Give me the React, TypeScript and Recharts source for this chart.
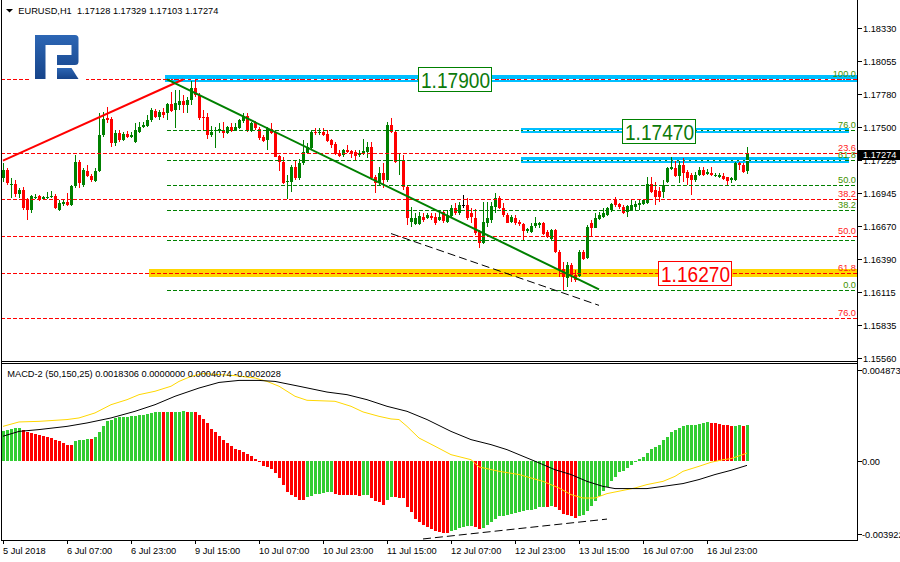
import React from 'react';
import { ComposedChart, Bar, Line, XAxis, YAxis, ReferenceLine, ReferenceArea, ReferenceDot } from 'recharts';

const FONT = '"Liberation Sans", Arial, Helvetica, sans-serif';
const FS = 9.25;

// ---- H1 candles [open, high, low, close], one array per trading day ----
const jul05 = [
  [1.17071, 1.17197, 1.17037, 1.17138], [1.17138, 1.17155, 1.17010, 1.17027], [1.17020, 1.17071, 1.16903, 1.17024],
  [1.17021, 1.17054, 1.16911, 1.16937], [1.16940, 1.16987, 1.16903, 1.16970], [1.16970, 1.16995, 1.16802, 1.16819],
  [1.16886, 1.16903, 1.16718, 1.16802], [1.16802, 1.16928, 1.16777, 1.16920], [1.16911, 1.16937, 1.16895, 1.16915],
];
const jul06 = [
  [1.16920, 1.16930, 1.16878, 1.16886], [1.16892, 1.16920, 1.16886, 1.16911], [1.16911, 1.16956, 1.16895, 1.16915],
  [1.16908, 1.16964, 1.16900, 1.16920], [1.16920, 1.16937, 1.16810, 1.16816], [1.16802, 1.16886, 1.16794, 1.16861],
  [1.16850, 1.16895, 1.16836, 1.16872], [1.16872, 1.16945, 1.16836, 1.16844], [1.16844, 1.17012, 1.16836, 1.17004],
  [1.17004, 1.17265, 1.16987, 1.17206], [1.17206, 1.17222, 1.16987, 1.17027], [1.17012, 1.17155, 1.16995, 1.17138],
  [1.17130, 1.17180, 1.17079, 1.17088], [1.17088, 1.17105, 1.17037, 1.17054], [1.17046, 1.17155, 1.17037, 1.17130],
  [1.17130, 1.17620, 1.17121, 1.17433], [1.17433, 1.17629, 1.17416, 1.17567], [1.17573, 1.17666, 1.17534, 1.17559],
  [1.17565, 1.17584, 1.17332, 1.17365], [1.17365, 1.17475, 1.17340, 1.17449], [1.17452, 1.17475, 1.17376, 1.17391],
  [1.17391, 1.17458, 1.17382, 1.17441], [1.17441, 1.17466, 1.17407, 1.17418], [1.17418, 1.17458, 1.17407, 1.17433],
];
const jul09 = [
  [1.17376, 1.17536, 1.17365, 1.17475], [1.17461, 1.17545, 1.17449, 1.17503], [1.17497, 1.17545, 1.17492, 1.17517],
  [1.17508, 1.17601, 1.17500, 1.17559], [1.17559, 1.17657, 1.17545, 1.17643], [1.17637, 1.17651, 1.17576, 1.17587],
  [1.17587, 1.17643, 1.17559, 1.17626], [1.17626, 1.17660, 1.17573, 1.17601], [1.17615, 1.17702, 1.17559, 1.17691],
  [1.17691, 1.17797, 1.17629, 1.17637], [1.17643, 1.17811, 1.17489, 1.17699], [1.17685, 1.17811, 1.17643, 1.17719],
  [1.17719, 1.17769, 1.17615, 1.17685], [1.17685, 1.17755, 1.17615, 1.17727], [1.17727, 1.17885, 1.17685, 1.17825],
  [1.17825, 1.17908, 1.17755, 1.17769], [1.17769, 1.17786, 1.17559, 1.17573], [1.17587, 1.17643, 1.17475, 1.17573],
  [1.17581, 1.17618, 1.17396, 1.17433], [1.17433, 1.17508, 1.17418, 1.17461], [1.17466, 1.17503, 1.17321, 1.17475],
  [1.17469, 1.17531, 1.17447, 1.17481], [1.17475, 1.17545, 1.17405, 1.17447], [1.17447, 1.17508, 1.17441, 1.17503],
];
const jul10 = [
  [1.17503, 1.17536, 1.17460, 1.17469], [1.17475, 1.17531, 1.17466, 1.17497], [1.17489, 1.17565, 1.17481, 1.17559],
  [1.17553, 1.17615, 1.17536, 1.17587], [1.17593, 1.17615, 1.17460, 1.17469], [1.17469, 1.17545, 1.17460, 1.17531],
  [1.17545, 1.17553, 1.17475, 1.17489], [1.17481, 1.17503, 1.17391, 1.17405], [1.17413, 1.17433, 1.17376, 1.17385],
  [1.17391, 1.17503, 1.17307, 1.17489], [1.17481, 1.17536, 1.17441, 1.17447], [1.17460, 1.17475, 1.17245, 1.17250],
  [1.17256, 1.17265, 1.17133, 1.17208], [1.17208, 1.17250, 1.17020, 1.17027], [1.17037, 1.17096, 1.16892, 1.17048],
  [1.17040, 1.17180, 1.16956, 1.17166], [1.17161, 1.17222, 1.17054, 1.17068], [1.17068, 1.17228, 1.17054, 1.17194],
  [1.17194, 1.17391, 1.17180, 1.17292], [1.17284, 1.17363, 1.17279, 1.17334], [1.17321, 1.17469, 1.17312, 1.17460],
  [1.17460, 1.17489, 1.17433, 1.17447], [1.17452, 1.17489, 1.17433, 1.17460], [1.17460, 1.17489, 1.17424, 1.17433],
];
const jul11 = [
  [1.17441, 1.17475, 1.17376, 1.17382], [1.17391, 1.17400, 1.17321, 1.17349], [1.17357, 1.17376, 1.17265, 1.17273],
  [1.17279, 1.17307, 1.17250, 1.17256], [1.17265, 1.17312, 1.17245, 1.17307], [1.17307, 1.17349, 1.17279, 1.17292],
  [1.17301, 1.17307, 1.17237, 1.17273], [1.17292, 1.17307, 1.17222, 1.17256], [1.17265, 1.17307, 1.17245, 1.17284],
  [1.17284, 1.17397, 1.17265, 1.17301], [1.17292, 1.17376, 1.17237, 1.17334], [1.17334, 1.17376, 1.17054, 1.17068],
  [1.17077, 1.17096, 1.16942, 1.17027], [1.17027, 1.17166, 1.17004, 1.17110], [1.17110, 1.17194, 1.16984, 1.17054],
  [1.17054, 1.17545, 1.17040, 1.17517], [1.17517, 1.17573, 1.17447, 1.17460], [1.17460, 1.17475, 1.17200, 1.17208],
  [1.17214, 1.17279, 1.17096, 1.17222], [1.17222, 1.17265, 1.16970, 1.16998], [1.16998, 1.17012, 1.16676, 1.16732],
  [1.16701, 1.16830, 1.16662, 1.16735], [1.16684, 1.16774, 1.16676, 1.16732], [1.16684, 1.16788, 1.16676, 1.16752],
];
const jul12 = [
  [1.16746, 1.16774, 1.16704, 1.16718], [1.16732, 1.16774, 1.16726, 1.16760], [1.16752, 1.16780, 1.16718, 1.16732],
  [1.16746, 1.16774, 1.16676, 1.16690], [1.16718, 1.16802, 1.16712, 1.16746], [1.16788, 1.16802, 1.16695, 1.16712],
  [1.16704, 1.16802, 1.16695, 1.16760], [1.16752, 1.16844, 1.16746, 1.16816], [1.16822, 1.16858, 1.16760, 1.16774],
  [1.16774, 1.16872, 1.16760, 1.16844], [1.16844, 1.16928, 1.16816, 1.16844], [1.16844, 1.16900, 1.16718, 1.16732],
  [1.16774, 1.16816, 1.16690, 1.16746], [1.16732, 1.16808, 1.16592, 1.16606], [1.16628, 1.16634, 1.16480, 1.16522],
  [1.16522, 1.16872, 1.16516, 1.16704], [1.16690, 1.16872, 1.16662, 1.16732], [1.16718, 1.16872, 1.16690, 1.16836],
  [1.16830, 1.16947, 1.16774, 1.16900], [1.16900, 1.16920, 1.16808, 1.16816], [1.16816, 1.16858, 1.16746, 1.16760],
  [1.16760, 1.16774, 1.16690, 1.16695], [1.16704, 1.16760, 1.16690, 1.16746], [1.16737, 1.16760, 1.16676, 1.16690],
];
const jul13 = [
  [1.16704, 1.16718, 1.16668, 1.16684], [1.16684, 1.16690, 1.16544, 1.16628], [1.16628, 1.16648, 1.16606, 1.16640],
  [1.16620, 1.16690, 1.16606, 1.16668], [1.16668, 1.16746, 1.16648, 1.16690], [1.16676, 1.16704, 1.16648, 1.16695],
  [1.16695, 1.16704, 1.16592, 1.16600], [1.16620, 1.16634, 1.16564, 1.16577], [1.16556, 1.16640, 1.16550, 1.16634],
  [1.16634, 1.16640, 1.16443, 1.16451], [1.16451, 1.16466, 1.16241, 1.16297], [1.16303, 1.16367, 1.16123, 1.16241],
  [1.16227, 1.16367, 1.16157, 1.16339], [1.16339, 1.16353, 1.16199, 1.16255], [1.16255, 1.16297, 1.16199, 1.16213],
  [1.16247, 1.16466, 1.16241, 1.16451], [1.16451, 1.16466, 1.16381, 1.16387], [1.16395, 1.16676, 1.16387, 1.16662],
  [1.16693, 1.16718, 1.16577, 1.16651], [1.16651, 1.16774, 1.16651, 1.16732], [1.16724, 1.16788, 1.16718, 1.16760],
  [1.16746, 1.16816, 1.16732, 1.16780], [1.16760, 1.16830, 1.16752, 1.16816], [1.16802, 1.16863, 1.16788, 1.16852],
];
const jul16 = [
  [1.16892, 1.16909, 1.16830, 1.16844], [1.16852, 1.16858, 1.16808, 1.16825], [1.16830, 1.16844, 1.16768, 1.16774],
  [1.16788, 1.16844, 1.16746, 1.16836], [1.16802, 1.16886, 1.16796, 1.16844], [1.16830, 1.16880, 1.16802, 1.16852],
  [1.16844, 1.16886, 1.16802, 1.16863], [1.16852, 1.16892, 1.16844, 1.16886], [1.16858, 1.17082, 1.16852, 1.17021],
  [1.17021, 1.17077, 1.16947, 1.16956], [1.16970, 1.17040, 1.16844, 1.16909], [1.16964, 1.16998, 1.16872, 1.16909],
  [1.16956, 1.17054, 1.16900, 1.17012], [1.17040, 1.17166, 1.17027, 1.17152], [1.17144, 1.17250, 1.17138, 1.17166],
  [1.17152, 1.17222, 1.17082, 1.17088], [1.17088, 1.17222, 1.17027, 1.17180], [1.17180, 1.17237, 1.17040, 1.17110],
  [1.17124, 1.17138, 1.17012, 1.17068], [1.17096, 1.17110, 1.16928, 1.17054], [1.17054, 1.17124, 1.17040, 1.17096],
  [1.17096, 1.17166, 1.17088, 1.17138], [1.17138, 1.17161, 1.17088, 1.17096], [1.17105, 1.17144, 1.17096, 1.17124],
];
const jul17 = [
  [1.17110, 1.17161, 1.17088, 1.17096], [1.17094, 1.17116, 1.17077, 1.17098], [1.17082, 1.17110, 1.17068, 1.17096],
  [1.17088, 1.17110, 1.17054, 1.17060], [1.17077, 1.17082, 1.17012, 1.17048], [1.17054, 1.17082, 1.17032, 1.17068],
  [1.17054, 1.17208, 1.17048, 1.17194], [1.17194, 1.17208, 1.17138, 1.17180], [1.17180, 1.17194, 1.17116, 1.17124],
  [1.17128, 1.17329, 1.17103, 1.17274],
];

// ---- MACD histogram, one array per day ----
const h05 = [0.00149, 0.00158, 0.00163, 0.00164, 0.00168, 0.00154, 0.00146, 0.00139, 0.00138];
const h06 = [0.00131, 0.00128, 0.00123, 0.00118, 0.00108, 0.00100, 0.00091, 0.00083, 0.00082, 0.00103, 0.00104, 0.00108,
  0.00111, 0.00110, 0.00120, 0.00144, 0.00174, 0.00199, 0.00208, 0.00214, 0.00219, 0.00221, 0.00222, 0.00224];
const h09 = [0.00226, 0.00229, 0.00232, 0.00236, 0.00242, 0.00244, 0.00247, 0.00246, 0.00247, 0.00246, 0.00247, 0.00248,
  0.00249, 0.00245, 0.00247, 0.00246, 0.00229, 0.00212, 0.00191, 0.00163, 0.00144, 0.00128, 0.00106, 0.00091];
const h10 = [0.00076, 0.00063, 0.00056, 0.00048, 0.00037, 0.00025, 0.00013, -0.00002, -0.00022, -0.00030, -0.00038, -0.00058,
  -0.00083, -0.00120, -0.00151, -0.00166, -0.00179, -0.00194, -0.00195, -0.00179, -0.00171, -0.00164, -0.00161, -0.00158];
const h11 = [-0.00153, -0.00152, -0.00163, -0.00166, -0.00167, -0.00168, -0.00169, -0.00170, -0.00171, -0.00170, -0.00169, -0.00184,
  -0.00199, -0.00204, -0.00219, -0.00194, -0.00178, -0.00180, -0.00181, -0.00183, -0.00229, -0.00254, -0.00286, -0.00304];
const h12 = [-0.00319, -0.00329, -0.00337, -0.00345, -0.00354, -0.00355, -0.00356, -0.00349, -0.00344, -0.00332, -0.00327, -0.00324,
  -0.00323, -0.00325, -0.00337, -0.00332, -0.00319, -0.00304, -0.00287, -0.00274, -0.00271, -0.00266, -0.00262, -0.00257];
const h13 = [-0.00254, -0.00249, -0.00244, -0.00241, -0.00236, -0.00229, -0.00226, -0.00227, -0.00224, -0.00229, -0.00244, -0.00261,
  -0.00266, -0.00274, -0.00282, -0.00274, -0.00269, -0.00249, -0.00224, -0.00199, -0.00174, -0.00149, -0.00128, -0.00100];
const h16 = [-0.00078, -0.00055, -0.00046, -0.00033, -0.00017, 0.00002, 0.00012, 0.00022, 0.00042, 0.00061, 0.00071, 0.00083,
  0.00105, 0.00121, 0.00144, 0.00154, 0.00166, 0.00174, 0.00181, 0.00182, 0.00183, 0.00186, 0.00193, 0.00194];
const h17 = [0.00193, 0.00191, 0.00188, 0.00183, 0.00179, 0.00174, 0.00178, 0.00179, 0.00175, 0.0018306];

// MACD lines, read at [bar index, value]
const signalPts: [number, number][] = [
  [0, 0.00174], [4, 0.00196], [9, 0.00199], [16, 0.00208], [19, 0.00216], [23, 0.00241], [27, 0.00282], [31, 0.00307],
  [34, 0.00332], [38, 0.00349], [42, 0.00374], [44, 0.00398], [47, 0.00423], [50, 0.00437], [54, 0.00432], [58, 0.00427],
  [63, 0.00415], [66, 0.00398], [69, 0.00374], [73, 0.00324], [76, 0.00304], [83, 0.00299], [87, 0.00274], [90, 0.00246],
  [94, 0.00224], [97, 0.00211], [99, 0.00208], [101, 0.00174], [104, 0.00116], [108, 0.00075], [112, 0.00033], [117, 0.00008],
  [119, -0.00028], [124, -0.00050], [129, -0.00066], [135, -0.00100], [139, -0.00133], [142, -0.00166], [145, -0.00183],
  [148, -0.00183], [151, -0.00161], [154, -0.00149], [158, -0.00133], [161, -0.00116], [165, -0.00100], [168, -0.00075],
  [170, -0.00050], [174, -0.00025], [177, -0.00005], [180, 0.00008], [182, 0.00013], [186, 0.0004074],
];
const mainPts: [number, number][] = [
  [0, 0.00125], [4, 0.00149], [9, 0.00158], [16, 0.00174], [21, 0.00191], [27, 0.00216], [33, 0.00249], [38, 0.00282],
  [43, 0.00324], [49, 0.00365], [54, 0.00393], [59, 0.00403], [64, 0.00403], [68, 0.00398], [74, 0.00374], [81, 0.00345],
  [86, 0.00332], [91, 0.00307], [96, 0.00274], [101, 0.00249], [106, 0.00208], [112, 0.00149], [117, 0.00108], [122, 0.00083],
  [126, 0.00058], [130, 0.00025], [134, -0.00008], [138, -0.00042], [142, -0.00066], [146, -0.00100], [150, -0.00125],
  [153, -0.00136], [161, -0.00136], [165, -0.00125], [170, -0.00111], [174, -0.00091], [178, -0.00066], [182, -0.00045],
  [186, -0.0002028],
];

const timeTicks = [0, 16, 32, 48, 64, 80, 96, 112, 128, 144, 160, 176];
const timeLabels = ['5 Jul 2018', '6 Jul 07:00', '6 Jul 23:00', '9 Jul 15:00', '10 Jul 07:00', '10 Jul 23:00',
  '11 Jul 15:00', '12 Jul 07:00', '12 Jul 23:00', '13 Jul 15:00', '16 Jul 07:00', '16 Jul 23:00'];
const priceTicks = [1.18330, 1.18055, 1.17780, 1.17500, 1.17225, 1.16945, 1.16670, 1.16390, 1.16115, 1.15835, 1.15560];
const priceDomain = [1.15532, 1.18560];
const macdTicks = [0.004873, 0, -0.003922];
const macdDomain = [-0.003922, 0.004873];

const redLevels = [
  { t: '23.6', p: 1.17278 }, { t: '38.2', p: 1.16892 }, { t: '50.0', p: 1.16581 }, { t: '61.8', p: 1.16270 }, { t: '76.0', p: 1.15895 },
];
const redTop = 1.17900;
const greenLevels = [
  { t: '0.0', p: 1.16130 }, { t: '', p: 1.16548 }, { t: '38.2', p: 1.16806 }, { t: '50.0', p: 1.17015 },
  { t: '61.8', p: 1.17224 }, { t: '76.0', p: 1.17475 }, { t: '100.0', p: 1.17900 },
];
const blueBands = [
  { x1: 41, x2: 213, y1: 1.17875, y2: 1.17934, line: 1.17900 },
  { x1: 130, x2: 211, y1: 1.17447, y2: 1.17489, line: 1.17475 },
  { x1: 130, x2: 211, y1: 1.17200, y2: 1.17245, line: 1.17224 },
];
const goldBand = { x1: 37, x2: 213, y1: 1.16239, y2: 1.16302 };
const boxes = [
  { x: 113, p: 1.17900, t: '1.17900', c: '#008000', tc: '#0b7a0b' },
  { x: 164, p: 1.17470, t: '1.17470', c: '#008000', tc: '#0b7a0b' },
  { x: 173, p: 1.16270, t: '1.16270', c: '#ff0000', tc: '#ff0000' },
];
const redTrend = [{ x: 0, y: 1.17218 }, { x: 45, y: 1.17900 }];
const greenTrend = [{ x: 41, y: 1.17900 }, { x: 149, y: 1.16134 }];
const blackTrend = [{ x: 97, y: 1.16604 }, { x: 149, y: 1.16000 }];
const macdTrend = [{ x: 105, y: -0.00387 }, { x: 151, y: -0.00288 }];
const lastPrice = 1.17274;

const candles = [...jul05, ...jul06, ...jul09, ...jul10, ...jul11, ...jul12, ...jul13, ...jul16, ...jul17];
const macdHist = [...h05, ...h06, ...h09, ...h10, ...h11, ...h12, ...h13, ...h16, ...h17];
const SLOTS = 214;

const table = Array.from({ length: SLOTS }, (_, i) => {
  const c = candles[i];
  const h = macdHist[i];
  return {
    i,
    open: c ? c[0] : null,
    high: c ? c[1] : null,
    low: c ? c[2] : null,
    close: c ? c[3] : null,
    hist: h === undefined ? null : h,
    histUp: h === undefined ? false : i === 0 || h > macdHist[i - 1],
    signal: null as number | null,
    main: null as number | null,
  };
});
for (const [i, v] of signalPts) table[i].signal = v;
for (const [i, v] of mainPts) table[i].main = v;

const Candle = (props: any) => {
  const { x, y, width, height, payload } = props;
  if (!payload || payload.open == null) return null;
  const { open, high, low, close } = payload;
  const cx = Math.round(x + width / 2);
  const span = high - low;
  const toY = (v: number) => (span > 0 ? y + ((high - v) / span) * height : y);
  const color = close === open ? '#000000' : close > open ? '#008000' : '#ff0000';
  const bt = Math.round(toY(Math.max(open, close)));
  const bb = Math.round(toY(Math.min(open, close)));
  const ht = Math.round(y);
  const hb = Math.round(y + height);
  return (
    <g>
      <rect x={cx} y={ht} width={1} height={Math.max(1, hb - ht)} fill={color} />
      <rect x={cx - 1} y={bt} width={3} height={Math.max(1, bb - bt)} fill={color} />
    </g>
  );
};

const HistBar = (props: any) => {
  const { x, y, width, height, payload } = props;
  if (!payload || payload.hist == null) return null;
  const cx = Math.round(x + width / 2);
  const a = Math.round(Math.min(y, y + height));
  const b = Math.round(Math.max(y, y + height));
  return <rect x={cx - 1} y={a} width={3} height={Math.max(1, b - a)} fill={payload.histUp ? '#32cd32' : '#ff0000'} />;
};

const HLine = (p: any) => {
  const y = Math.round(p.y1) + 0.5;
  return <line x1={p.x1} x2={p.x2} y1={y} y2={y} stroke={p.stroke} strokeWidth={1} strokeDasharray={p.strokeDasharray} />;
};

const BandShape = (p: any) => {
  const y1 = Math.round(p.y);
  const y2 = Math.round(p.y + p.height);
  return <rect x={Math.round(p.x)} y={y1} width={Math.round(p.width)} height={Math.max(1, y2 - y1)} fill={p.fill} />;
};

const levelLabel = (text: string, color: string) => (props: any) => {
  const vb = props.viewBox || {};
  const y = Math.round(vb.y);
  return (
    <text x={856} y={y - 2} textAnchor="end" fontSize={FS} fill={color} fontFamily={FONT}>
      {text}
    </text>
  );
};

const PriceTag = (props: any) => {
  const vb = props.viewBox || {};
  const y = Math.round(vb.y);
  const x = (vb.x || 0) + (vb.width || 0);
  return (
    <g>
      <rect x={x + 1} y={y - 4} width={43} height={10} fill="#000" />
      <text x={x + 6} y={y + 1} dy="0.35em" fontSize={FS} fill="#fff" fontFamily={FONT}>
        {lastPrice.toFixed(5)}
      </text>
    </g>
  );
};

const boxShape = (text: string, color: string, tc: string) => (p: any) => {
  const cx = Math.round(p.cx);
  const cy = Math.round(p.cy);
  return (
    <g>
      <rect x={cx - 36.5} y={cy - 11.5} width={73} height={24} fill="#fff" stroke={color} strokeWidth={1} />
      <text x={cx - 34} y={cy + 9} fontSize={22} textLength={69} lengthAdjust="spacingAndGlyphs" fill={tc} fontFamily={FONT}>
        {text}
      </text>
    </g>
  );
};

const PriceTick = (p: any) => {
  const y = Math.round(p.y);
  const x = Math.round(p.x);
  return (
    <g>
      <line x1={x + 1} x2={x + 5} y1={y + 0.5} y2={y + 0.5} stroke="#000" />
      <text x={x + 6} y={y + 0.5} dy="0.35em" fontSize={FS} fill="#000" fontFamily={FONT}>
        {Number(p.payload.value).toFixed(5)}
      </text>
    </g>
  );
};

const MacdTick = (p: any) => {
  const v = Number(p.payload.value);
  let y = p.y;
  if (v === macdTicks[0]) y += 6.5;
  else if (v === macdTicks[2]) y -= 6;
  y = Math.round(y);
  const x = Math.round(p.x);
  return (
    <g>
      <line x1={x + 1} x2={x + 5} y1={y + 0.5} y2={y + 0.5} stroke="#000" />
      <text x={x + 5} y={y + 0.5} dy="0.35em" fontSize={FS} fill="#000" fontFamily={FONT}>
        {v === 0 ? '0.00' : v.toFixed(6)}
      </text>
    </g>
  );
};

const TimeTick = (p: any) => {
  const idx = timeTicks.indexOf(Number(p.payload.value));
  const x = Math.round(p.x);
  return (
    <g>
      <line x1={x + 0.5} x2={x + 0.5} y1={p.y + 1} y2={p.y + 4} stroke="#000" />
      <text x={x} y={p.y + 14} fontSize={FS} fill="#000" fontFamily={FONT}>
        {timeLabels[idx]}
      </text>
    </g>
  );
};

export default function App() {
  return (
    <div style={{ position: 'absolute', left: 0, top: 0, width: 900, height: 562, background: '#fff', overflow: 'hidden', fontFamily: FONT }}>
      <div style={{ position: 'absolute', left: 0, top: 0 }}>
        <ComposedChart width={900} height={362} data={table} margin={{ top: 1, right: 0, bottom: 1, left: 1 }} barCategoryGap={0} barGap={0}>
          <XAxis dataKey="i" type="category" hide />
          <YAxis orientation="right" width={43} type="number" domain={priceDomain} ticks={priceTicks} allowDataOverflow
            axisLine={false} tickLine={false} tickSize={0} tickMargin={0} interval={0} tick={<PriceTick />} />
          {redLevels.map((l) => (
            <ReferenceLine key={'r' + l.t} y={l.p} stroke="#ff0000" strokeDasharray="4 2" shape={HLine} label={levelLabel(l.t, '#ff1a1a')} />
          ))}
          <ReferenceLine y={redTop} stroke="#ff0000" strokeDasharray="4 2" shape={HLine} />
          {greenLevels.map((l) => (
            <ReferenceLine key={'g' + l.p} segment={[{ x: 41, y: l.p }, { x: 213, y: l.p }]} stroke="#008000" strokeDasharray="4 2"
              shape={HLine} label={l.t ? levelLabel(l.t, '#3f9200') : undefined} />
          ))}
          {blueBands.map((b, k) => (
            <ReferenceArea key={'b' + k} x1={b.x1} x2={b.x2} y1={b.y1} y2={b.y2} fill="#00bfff" fillOpacity={1} stroke="none" shape={BandShape} />
          ))}
          <ReferenceArea x1={goldBand.x1} x2={goldBand.x2} y1={goldBand.y1} y2={goldBand.y2} fill="#ffd700" fillOpacity={1} stroke="none" shape={BandShape} />
          {blueBands.map((b, k) => (
            <ReferenceLine key={'w' + k} segment={[{ x: b.x1, y: b.line }, { x: b.x2, y: b.line }]} stroke="#ffffff" strokeDasharray="4 2" shape={HLine} />
          ))}
          <ReferenceLine segment={[{ x: blueBands[0].x1, y: redTop }, { x: blueBands[0].x2, y: redTop }]} stroke="#ff0000" strokeDasharray="3 4" shape={HLine} />
          <ReferenceLine segment={[{ x: goldBand.x1, y: 1.16270 }, { x: goldBand.x2, y: 1.16270 }]} stroke="#ff0000" strokeDasharray="4 2" shape={HLine} />
          <Bar dataKey={(d: any) => (d.open == null ? null : [d.low, d.high])} barSize={4} shape={Candle} isAnimationActive={false} />
          <ReferenceLine segment={redTrend} stroke="#ff0000" strokeWidth={2} />
          <ReferenceLine segment={greenTrend} stroke="#008000" strokeWidth={2} />
          <ReferenceLine segment={blackTrend} stroke="#000000" strokeWidth={1} strokeDasharray="8 4" />
          {boxes.map((b) => (
            <ReferenceDot key={b.t} x={b.x} y={b.p} r={1} shape={boxShape(b.t, b.c, b.tc)} />
          ))}
          <ReferenceLine y={lastPrice} stroke="none" label={<PriceTag />} />
        </ComposedChart>
      </div>
      <div style={{ position: 'absolute', left: 0, top: 362 }}>
        <ComposedChart width={900} height={200} data={table} margin={{ top: 1.5, right: 0, bottom: 0, left: 1 }} barCategoryGap={0} barGap={0}>
          <XAxis dataKey="i" type="category" height={22} ticks={timeTicks} interval={0} axisLine={false} tickLine={false}
            tickSize={0} tickMargin={0} tick={<TimeTick />} />
          <YAxis orientation="right" width={43} type="number" domain={macdDomain} ticks={macdTicks} allowDataOverflow
            axisLine={false} tickLine={false} tickSize={0} tickMargin={0} interval={0} tick={<MacdTick />} />
          <Bar dataKey="hist" barSize={4} shape={HistBar} isAnimationActive={false} />
          <Line dataKey="signal" stroke="#ffd700" strokeWidth={1} dot={false} connectNulls isAnimationActive={false} type="linear" />
          <Line dataKey="main" stroke="#000000" strokeWidth={1} dot={false} connectNulls isAnimationActive={false} type="linear" />
          <ReferenceLine segment={macdTrend} stroke="#000000" strokeWidth={1} strokeDasharray="8 4" />
        </ComposedChart>
      </div>
      <svg width={900} height={562} style={{ position: 'absolute', left: 0, top: 0, pointerEvents: 'none' }}>
        <defs>
          <linearGradient id="logoGrad" x1="0" y1="0" x2="0" y2="1">
            <stop offset="0" stopColor="#2c66b4" />
            <stop offset="1" stopColor="#16448a" />
          </linearGradient>
        </defs>
        <rect x={30} y={76} width={56} height={7} fill="#fff" />
        <path d="M35,35 H75 Q78.5,35 78.5,38.5 V61.5 Q78.5,65 75,65 H57 V55 H71.5 V45 H45.5 V79 H35 Z" fill="url(#logoGrad)" />
        <path d="M57,68 H71.5 L78.5,79 H57 Z" fill="url(#logoGrad)" />
        <polygon points="6,9 13,9 9.5,12.5" fill="#000" />
        <text x={18.3} y={14} fontSize={FS} fill="#000" fontFamily={FONT} style={{ whiteSpace: 'pre' }}>
          {'EURUSD,H1  1.17128 1.17329 1.17103 1.17274'}
        </text>
        <text x={7.3} y={376.5} fontSize={FS} fill="#000" fontFamily={FONT} style={{ whiteSpace: 'pre' }}>
          {'MACD-2 (50,150,25) 0.0018306 0.0000000 0.0004074 -0.0002028'}
        </text>
        <line x1={1.5} x2={1.5} y1={0} y2={541} stroke="#000" />
        <line x1={857.5} x2={857.5} y1={0} y2={541} stroke="#000" />
        <line x1={1} x2={858} y1={361.5} y2={361.5} stroke="#000" />
        <line x1={1} x2={858} y1={363.5} y2={363.5} stroke="#000" />
        <line x1={1} x2={858} y1={540.5} y2={540.5} stroke="#000" />
      </svg>
    </div>
  );
}
